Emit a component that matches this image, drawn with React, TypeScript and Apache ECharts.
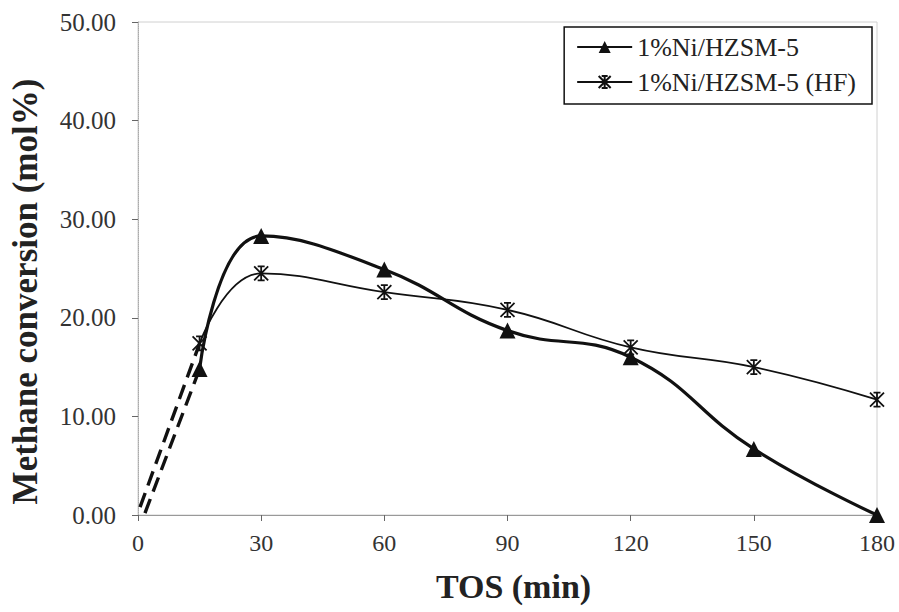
import React, { useEffect, useRef } from "react";
import * as echarts from "echarts";

const tos = [15, 30, 60, 90, 120, 150, 180];
const niHzsm = [14.8, 28.3, 24.9, 18.7, 16.0, 6.7, 0.0];
const niHzsmHF = [17.4, 24.5, 22.6, 20.8, 17.0, 15.0, 11.7];
const startTri = [1.7, 0.2];
const startStar = [0.5, 0.8];
const seriesNames = ["1%Ni/HZSM-5", "1%Ni/HZSM-5 (HF)"];

const FONT = "'Liberation Serif', 'Times New Roman', serif";
const STAR = "path://M0,0L10,10M10,0L0,10M5,0L5,10M2.5,0L7.5,0M2.5,10L7.5,10";

export default function App() {
  const ref = useRef<HTMLDivElement>(null);
  useEffect(() => {
    if (!ref.current) return;
    const chart = echarts.init(ref.current, undefined, { renderer: "svg" });
    const pairs = (ys: number[]) => tos.map((x, i) => [x, ys[i]]);
    chart.setOption({
      animation: false,
      backgroundColor: "#fff",
      grid: { left: 135, right: 22, top: 22, bottom: 97, show: true, borderColor: "#d0d0d0", borderWidth: 1 },
      legend: {
        data: seriesNames,
        orient: "vertical",
        right: 27,
        top: 27,
        borderColor: "#111",
        borderWidth: 1.5,
        backgroundColor: "#fff",
        padding: [7, 16, 9, 12],
        itemGap: 9,
        itemWidth: 55,
        itemHeight: 15,
        textStyle: { fontFamily: FONT, fontSize: 26, color: "#222" },
      },
      xAxis: {
        type: "value",
        min: 0,
        max: 180,
        interval: 30,
        name: "TOS (min)",
        nameLocation: "middle",
        nameGap: 54,
        nameTextStyle: { fontFamily: FONT, fontSize: 34, fontWeight: "bold", color: "#222", padding: [0, 0, 0, 12] },
        axisLine: { show: true, lineStyle: { color: "#999", width: 1 } },
        axisTick: { show: true, length: 6, lineStyle: { color: "#666" } },
        axisLabel: { fontFamily: FONT, fontSize: 24, color: "#333", margin: 16 },
        splitLine: { show: false },
      },
      yAxis: {
        type: "value",
        min: 0,
        max: 50,
        interval: 10,
        name: "Methane conversion (mol%)",
        nameLocation: "middle",
        nameGap: 95,
        nameTextStyle: { fontFamily: FONT, fontSize: 35, fontWeight: "bold", color: "#222", padding: [0, 46, 0, 0] },
        axisLine: { show: true, lineStyle: { color: "#aaa", width: 1, type: "dotted" } },
        axisTick: { show: true, length: 6, lineStyle: { color: "#666" } },
        axisLabel: {
          fontFamily: FONT,
          fontSize: 25,
          color: "#333",
          margin: 22,
          formatter: (v: number) => v.toFixed(2),
        },
        splitLine: { show: false },
      },
      series: [
        {
          name: seriesNames[0],
          type: "line",
          data: pairs(niHzsm),
          smooth: 0.45,
          symbol: "triangle",
          symbolSize: 16,
          lineStyle: { color: "#111", width: 3.2 },
          itemStyle: { color: "#111" },
          z: 3,
        },
        {
          name: seriesNames[1],
          type: "line",
          data: pairs(niHzsmHF),
          smooth: 0.45,
          symbol: STAR,
          symbolSize: 14,
          lineStyle: { color: "#111", width: 1.8 },
          itemStyle: { color: "none", borderColor: "#111", borderWidth: 1.8 },
          z: 2,
        },
        {
          name: "dashTri",
          type: "line",
          data: [startTri, [tos[0], niHzsm[0]]],
          symbol: "none",
          lineStyle: { color: "#111", width: 3.4, type: [15, 8] },
          z: 1,
        },
        {
          name: "dashStar",
          type: "line",
          data: [startStar, [tos[0], niHzsmHF[0]]],
          symbol: "none",
          lineStyle: { color: "#111", width: 3.4, type: [15, 8] },
          z: 1,
        },
      ],
    });
    return () => chart.dispose();
  }, []);
  return <div ref={ref} style={{ width: 899, height: 612, position: "absolute", left: 0, top: 0 }} />;
}
